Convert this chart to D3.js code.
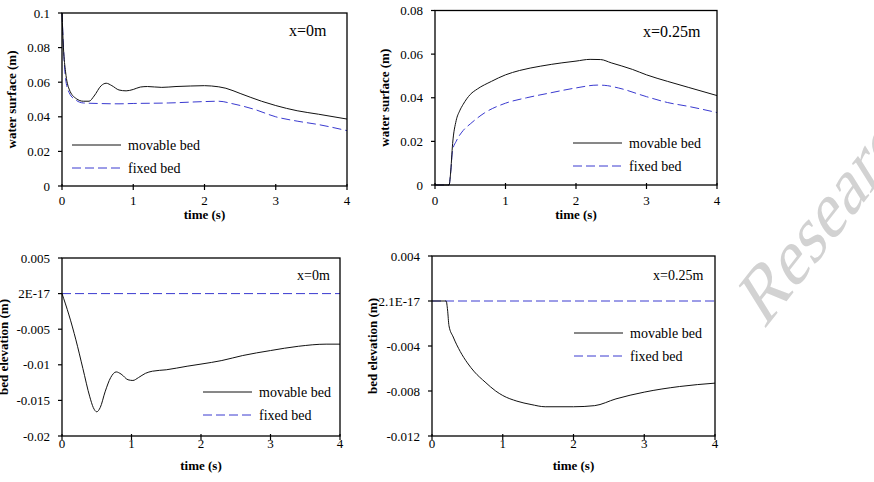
<!DOCTYPE html>
<html>
<meta charset="utf-8" />
<script src="https://d3js.org/d3.v7.min.js"></script>
<body>
<div id="chart"></div>
<script>
// time (s) vs value
var wsX0Movable = [[0,0.1],[0.02,0.08],[0.05,0.066],[0.1,0.056],[0.2,0.0505],[0.3,0.049],[0.38,0.049],[0.45,0.052],[0.55,0.058],[0.62,0.0594],[0.7,0.058],[0.8,0.0555],[0.9,0.055],[1.0,0.0558],[1.1,0.0572],[1.2,0.0575],[1.4,0.057],[1.6,0.0575],[1.8,0.0578],[2.0,0.058],[2.1,0.0578],[2.3,0.0565],[2.5,0.0535],[2.8,0.049],[3.0,0.0465],[3.3,0.0435],[3.6,0.0415],[4.0,0.0387]];
var wsX0Fixed = [[0,0.1],[0.05,0.062],[0.1,0.054],[0.2,0.0495],[0.3,0.048],[0.5,0.0477],[0.8,0.0475],[1.0,0.0477],[1.5,0.048],[2.0,0.0488],[2.2,0.049],[2.4,0.0475],[2.7,0.0443],[3.0,0.040],[3.3,0.0375],[3.6,0.0355],[4.0,0.032]];
var wsX25Movable = [[0,0],[0.2,0],[0.22,0.005],[0.25,0.019],[0.3,0.0295],[0.35,0.034],[0.4,0.037],[0.5,0.0415],[0.6,0.044],[0.8,0.0475],[1.0,0.0505],[1.2,0.0525],[1.5,0.0545],[1.8,0.056],[2.0,0.0568],[2.2,0.0576],[2.35,0.0575],[2.5,0.056],[2.8,0.053],[3.0,0.0505],[3.3,0.0475],[3.6,0.0447],[4.0,0.041]];
var wsX25Fixed = [[0,0],[0.2,0],[0.22,0.005],[0.25,0.016],[0.3,0.02],[0.4,0.025],[0.5,0.028],[0.7,0.033],[1.0,0.0375],[1.3,0.040],[1.6,0.042],[2.0,0.0445],[2.3,0.0458],[2.4,0.0457],[2.6,0.0445],[3.0,0.0405],[3.3,0.0378],[3.6,0.036],[4.0,0.0332]];
var bedX0Movable = [[0,0],[0.1,-0.003],[0.2,-0.0065],[0.3,-0.0105],[0.4,-0.0145],[0.45,-0.016],[0.5,-0.0166],[0.55,-0.016],[0.62,-0.0138],[0.7,-0.0118],[0.78,-0.0110],[0.85,-0.0113],[0.95,-0.0121],[1.02,-0.0122],[1.1,-0.0118],[1.2,-0.0112],[1.3,-0.0109],[1.5,-0.0107],[1.8,-0.0102],[2.0,-0.0099],[2.3,-0.0094],[2.6,-0.0087],[3.0,-0.0080],[3.4,-0.0074],[3.8,-0.0071],[4.0,-0.0071]];
var bedX0Fixed = [[0,0],[4,0]];
var bedX25Movable = [[0,0],[0.2,0],[0.22,-0.0008],[0.24,-0.0022],[0.3,-0.0032],[0.4,-0.0045],[0.5,-0.0055],[0.6,-0.0063],[0.75,-0.0072],[0.9,-0.0080],[1.0,-0.0084],[1.2,-0.0089],[1.4,-0.0092],[1.6,-0.0094],[2.0,-0.0094],[2.3,-0.0093],[2.6,-0.0087],[3.0,-0.0081],[3.5,-0.0076],[4.0,-0.0073]];
var bedX25Fixed = [[0,0],[4,0]];

var timeTicks = [0, 1, 2, 3, 4];
var wsX0Ticks = [0, 0.02, 0.04, 0.06, 0.08, 0.1];
var wsX0Labels = ["0", "0.02", "0.04", "0.06", "0.08", "0.1"];
var wsX25Ticks = [0, 0.02, 0.04, 0.06, 0.08];
var wsX25Labels = ["0", "0.02", "0.04", "0.06", "0.08"];
var bedX0Ticks = [-0.02, -0.015, -0.01, -0.005, 0, 0.005];
var bedX0Labels = ["-0.02", "-0.015", "-0.01", "-0.005", "2E-17", "0.005"];
var bedX25Ticks = [-0.012, -0.008, -0.004, 0, 0.004];
var bedX25Labels = ["-0.012", "-0.008", "-0.004", "2.1E-17", "0.004"];

var seriesNames = ["movable bed", "fixed bed"];

var svg = d3.select("#chart").append("svg")
  .attr("width", 874).attr("height", 482)
  .attr("font-family", "Liberation Serif, Times New Roman, serif");

// watermark
svg.append("text")
  .attr("transform", "translate(764,330) rotate(-52) skewX(-20)")
  .attr("font-size", 72)
  .attr("fill", "#d2d2d2")
  .text("Research");

var panels = [
  {l: 62, t: 13, r: 347, b: 186, ticks: wsX0Ticks, labels: wsX0Labels, movable: wsX0Movable, fixed: wsX0Fixed,
   ytitle: "water surface (m)", ytx: 16, tickGap: 19, titleY: 219, note: "x=0m", noteX: 289, noteY: 36, noteSize: 16,
   legX: 72, legY: 145},
  {l: 435, t: 10.5, r: 717, b: 185, ticks: wsX25Ticks, labels: wsX25Labels, movable: wsX25Movable, fixed: wsX25Fixed,
   ytitle: "water surface (m)", ytx: 389, tickGap: 20, titleY: 219, note: "x=0.25m", noteX: 643, noteY: 37, noteSize: 16,
   legX: 573, legY: 143},
  {l: 62, t: 258, r: 340, b: 436, ticks: bedX0Ticks, labels: bedX0Labels, movable: bedX0Movable, fixed: bedX0Fixed,
   ytitle: "bed elevation (m)", ytx: 8, tickGap: 12, titleY: 470, note: "x=0m", noteX: 297, noteY: 280, noteSize: 14,
   legX: 203, legY: 392},
  {l: 432, t: 256, r: 715, b: 436, ticks: bedX25Ticks, labels: bedX25Labels, movable: bedX25Movable, fixed: bedX25Fixed,
   ytitle: "bed elevation (m)", ytx: 377, tickGap: 12, titleY: 470, note: "x=0.25m", noteX: 653, noteY: 280, noteSize: 14,
   legX: 574, legY: 333}
];

panels.forEach(function(p) {
  var x = d3.scaleLinear().domain([0, 4]).range([p.l, p.r]);
  var y = d3.scaleLinear().domain(d3.extent(p.ticks)).range([p.b, p.t]);
  var g = svg.append("g");

  var line = d3.line()
    .x(function(d) { return x(d[0]); })
    .y(function(d) { return y(d[1]); })
    .curve(d3.curveMonotoneX);

  g.append("path").datum(p.fixed)
    .attr("fill", "none").attr("stroke", "#3a3ad0").attr("stroke-width", 1)
    .attr("stroke-dasharray", "9,4").attr("d", line);
  g.append("path").datum(p.movable)
    .attr("fill", "none").attr("stroke", "#111").attr("stroke-width", 1)
    .attr("d", line);

  // frame
  g.append("rect").attr("x", p.l).attr("y", p.t)
    .attr("width", p.r - p.l).attr("height", p.b - p.t)
    .attr("fill", "none").attr("stroke", "#000").attr("stroke-width", 1.3);

  // x axis
  g.selectAll(".xt").data(timeTicks).enter().append("line")
    .attr("x1", function(d) { return x(d); }).attr("x2", function(d) { return x(d); })
    .attr("y1", p.b - 2).attr("y2", p.b + 4)
    .attr("stroke", "#000").attr("stroke-width", 1.2);
  g.selectAll(".xl").data(timeTicks).enter().append("text")
    .attr("x", function(d) { return x(d); }).attr("y", p.b + p.tickGap)
    .attr("text-anchor", "middle").attr("font-size", 13)
    .text(function(d) { return d; });
  g.append("text").attr("x", (p.l + p.r) / 2).attr("y", p.titleY)
    .attr("text-anchor", "middle").attr("font-size", 13).attr("font-weight", "bold")
    .text("time (s)");

  // y axis
  g.selectAll(".yt").data(p.ticks).enter().append("line")
    .attr("x1", p.l - 4).attr("x2", p.l)
    .attr("y1", function(d) { return y(d); }).attr("y2", function(d) { return y(d); })
    .attr("stroke", "#000").attr("stroke-width", 1.2);
  g.selectAll(".yl").data(p.ticks).enter().append("text")
    .attr("x", p.l - 12).attr("y", function(d) { return y(d); })
    .attr("dy", "0.35em").attr("text-anchor", "end").attr("font-size", 13)
    .text(function(d, i) { return p.labels[i]; });
  g.append("text")
    .attr("transform", "translate(" + p.ytx + "," + ((p.t + p.b) / 2) + ") rotate(-90)")
    .attr("text-anchor", "middle").attr("font-size", 13).attr("font-weight", "bold")
    .text(p.ytitle);

  // note
  g.append("text").attr("x", p.noteX).attr("y", p.noteY)
    .attr("font-size", p.noteSize).text(p.note);

  // legend
  seriesNames.forEach(function(name, i) {
    var ly = p.legY + i * 23;
    g.append("line").attr("x1", p.legX).attr("x2", p.legX + 49)
      .attr("y1", ly).attr("y2", ly)
      .attr("stroke", i === 0 ? "#111" : "#3a3ad0").attr("stroke-width", 1)
      .attr("stroke-dasharray", i === 0 ? null : "9,4");
    g.append("text").attr("x", p.legX + 56).attr("y", ly).attr("dy", "0.35em")
      .attr("font-size", 14).text(name);
  });
});
</script>
</body>
<style>
  body { margin: 0; background: #fff; }
</style>
</html>
